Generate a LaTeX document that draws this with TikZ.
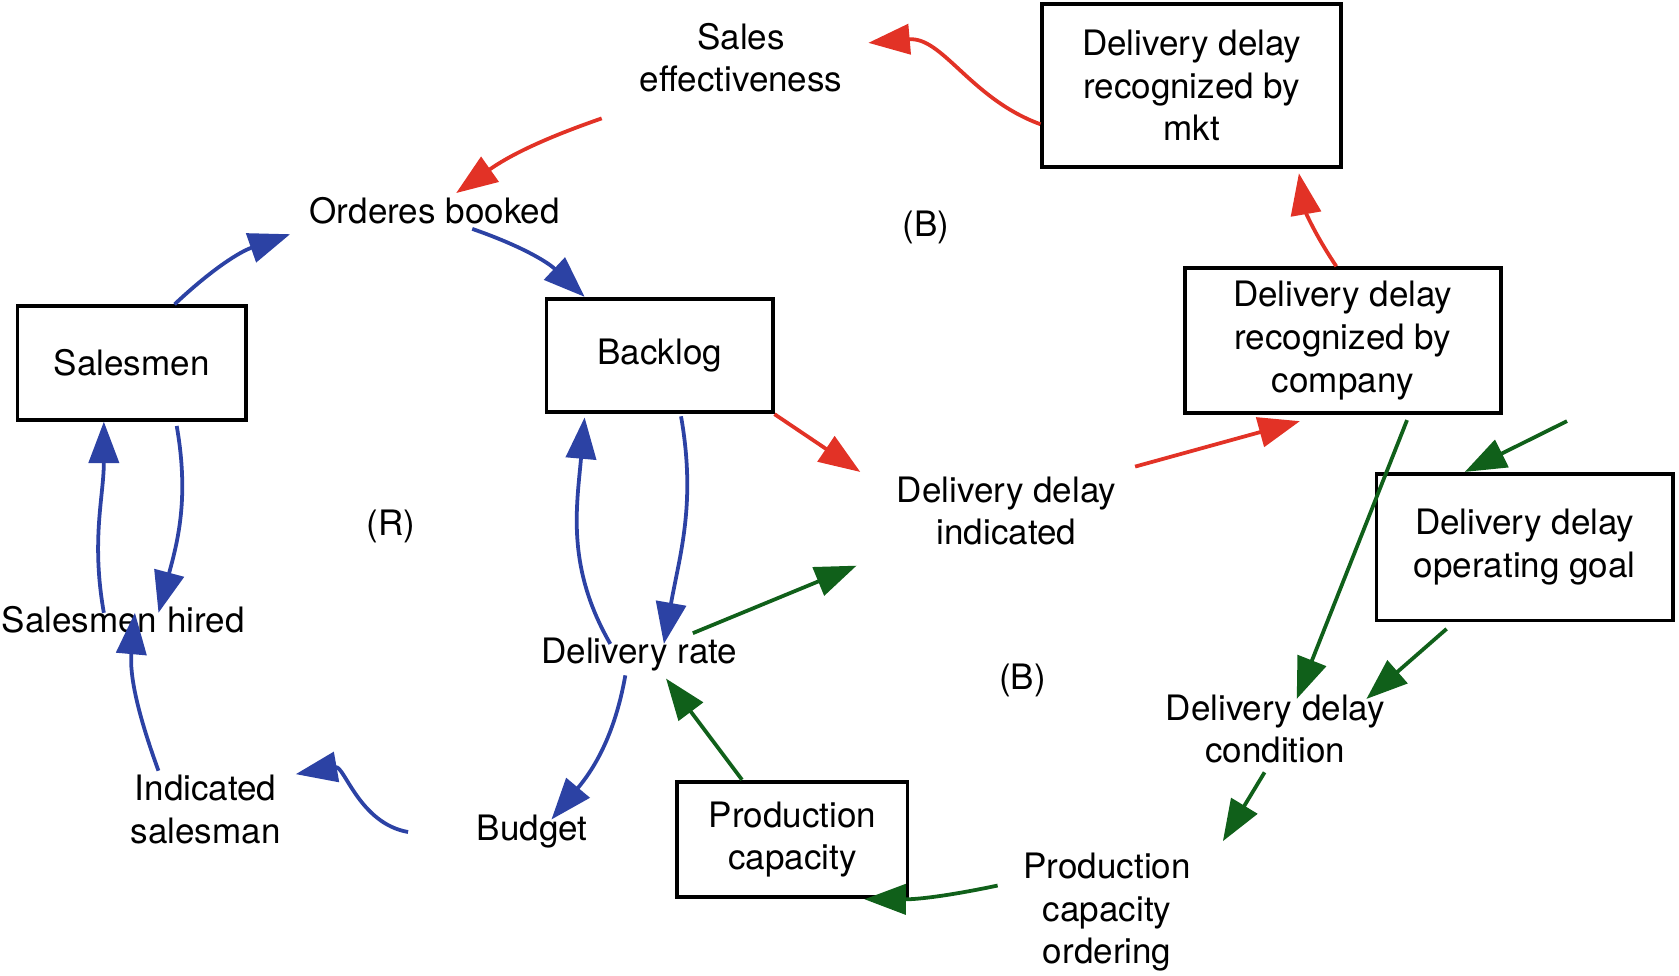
\documentclass[tikz,border=0pt]{standalone}
\usepackage{fontspec}
\setmainfont{TeX Gyre Heros}
\usetikzlibrary{arrows.meta}
\definecolor{cldred}{RGB}{226,50,38}
\definecolor{cldblue}{RGB}{44,66,164}
\definecolor{cldgreen}{RGB}{16,96,26}
\tikzset{
  var/.style={align=center,inner sep=1pt,font=\fontsize{9.3}{11.3}\selectfont},
  stock/.style={var,draw,line width=1pt,inner sep=0pt},
  link/.style={line width=1pt,-{Triangle[length=11pt,width=8pt]}},
  pos link/.style={link,cldblue},
  neg link/.style={link,cldred},
  ctl link/.style={link,cldgreen}
}
\begin{document}
\begin{tikzpicture}[x=0.01cm,y=-0.01cm]
\useasboundingbox (0,0) rectangle (1568,911);
% stocks
\node [stock,minimum width=279\pgflinewidth*0+2.79cm,minimum height=1.52cm] (mkt) at (1113,80) {Delivery delay\\recognized by\\mkt};
\node [stock,minimum width=2.13cm,minimum height=1.06cm] (salesmen) at (123,339) {Salesmen};
\node [stock,minimum width=2.11cm,minimum height=1.06cm] (backlog) at (616,332) {Backlog};
\node [stock,minimum width=2.95cm,minimum height=1.35cm] (company) at (1254,318) {Delivery delay\\recognized by\\company};
\node [stock,minimum width=2.77cm,minimum height=1.37cm] (goal) at (1424,511) {Delivery delay\\operating goal};
\node [stock,minimum width=2.15cm,minimum height=1.08cm] (prodcap) at (740,784) {Production\\capacity};
% auxiliaries
\node [var] (sales) at (692,54) {Sales\\effectiveness};
\node [var] (orders) at (406,197) {Orderes booked};
\node [var] (indicated) at (940,477) {Delivery delay\\indicated};
\node [var] (hired) at (115,579) {Salesmen hired};
\node [var] (rate) at (597,611) {Delivery rate};
\node [var] (condition) at (1191,681) {Delivery delay\\condition};
\node [var] (indsales) at (192,756) {Indicated\\salesman};
\node [var] (budget) at (497,777) {Budget};
\node [var] (ordering) at (1034,852) {Production\\capacity\\ordering};
% loop labels
\node [var] (b1) at (865,212) {(B)};
\node [var] (r1) at (365,492) {(R)};
\node [var] (b2) at (955,635) {(B)};
% red loop
\draw [neg link] ([yshift=-0.36cm]mkt.west) to[out=160,in=5] ([xshift=0.2cm,yshift=0.14cm]sales.east);
\draw [neg link] ([xshift=-1.3cm,yshift=-0.2cm]sales.south) to[bend right=8] ([xshift=0.2cm]orders.north);
\draw [neg link] (backlog.south east) -- ([xshift=-0.3cm]indicated.north west);
\draw [neg link] ([xshift=1.2cm,yshift=0.05cm]indicated.north) -- ([xshift=-0.4cm,yshift=-0.06cm]company.south);
\draw [neg link] ([xshift=-0.06cm]company.north) to[bend left=12] ([xshift=1.0cm,yshift=-0.04cm]mkt.south);
% blue loop
\draw [pos link] ([xshift=0.4cm]salesmen.north) to[bend left=12] ([xshift=-1.35cm,yshift=-0.05cm]orders.south);
\draw [pos link] ([xshift=0.35cm]orders.south) to[bend left=12] ([xshift=-0.7cm]backlog.north);
\draw [pos link] ([xshift=0.2cm,yshift=-0.02cm]backlog.south) to[out=-80,in=80] ([xshift=0.23cm,yshift=-0.1cm]rate.north);
\draw [pos link] ([xshift=-0.27cm,yshift=-0.1cm]rate.north) to[out=120,in=-95] ([xshift=-0.7cm,yshift=-0.03cm]backlog.south);
\draw [pos link] ([xshift=-0.13cm]rate.south) to[out=-100,in=50] ([xshift=0.18cm,yshift=-0.08cm]budget.north);
\draw [pos link] ([xshift=-0.6cm]budget.west) to[out=170,in=10] ([xshift=0.1cm,yshift=0.33cm]indsales.east);
\draw [pos link] ([xshift=-0.44cm]indsales.north) to[out=110,in=-95] ([xshift=0.11cm,yshift=-0.1cm]hired.north);
\draw [pos link] ([xshift=-0.18cm,yshift=-0.1cm]hired.north) to[out=100,in=-90] ([xshift=-0.26cm]salesmen.south);
\draw [pos link] ([xshift=0.42cm,yshift=-0.04cm]salesmen.south) to[out=-80,in=75] ([xshift=0.33cm,yshift=-0.1cm]hired.north);
% green loop
\draw [ctl link] ([xshift=0.5cm]rate.north) -- ([xshift=-1.4cm,yshift=-0.15cm]indicated.south);
\draw [ctl link] ([xshift=0.6cm,yshift=-0.05cm]company.south) -- ([xshift=0.2cm,yshift=-0.08cm]condition.north);
\draw [ctl link] ([xshift=0.59cm]company.south) ++(0,0) ([xshift=0.6cm,yshift=-0.06cm]company.south east) -- ([xshift=-0.56cm]goal.north);
\draw [ctl link] ([xshift=-0.73cm,yshift=-0.06cm]goal.south) -- ([xshift=0.85cm,yshift=-0.08cm]condition.north);
\draw [ctl link] ([xshift=-0.1cm,yshift=-0.04cm]condition.south) -- ([xshift=1.08cm,yshift=0.07cm]ordering.north);
\draw [ctl link] ([xshift=-0.2cm,yshift=0.25cm]ordering.west) to[bend left=6] ([xshift=-0.42cm]prodcap.south east);
\draw [ctl link] ([xshift=-0.47cm]prodcap.north) -- ([xshift=0.25cm,yshift=-0.03cm]rate.south);
\end{tikzpicture}
\end{document}
